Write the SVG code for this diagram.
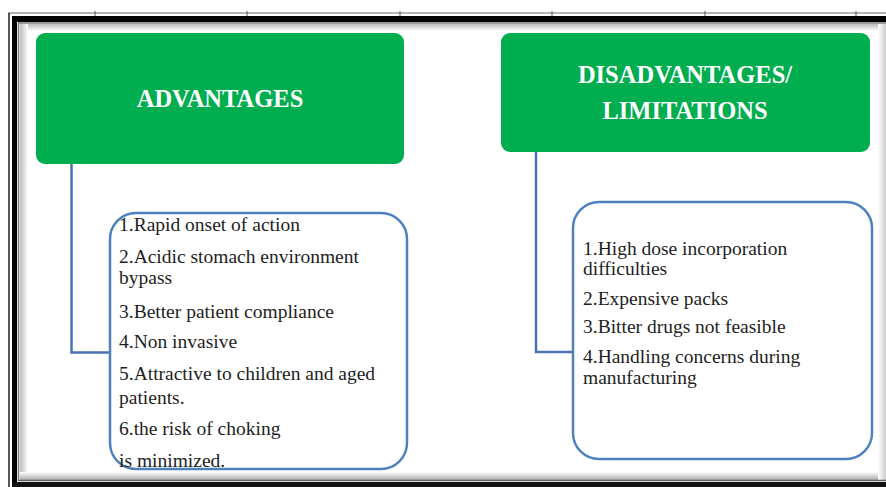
<svg xmlns="http://www.w3.org/2000/svg" width="886" height="487" viewBox="0 0 886 487">
<defs>
<style>
.hdr{fill:#00AD4F;}
.hdrtxt{font-family:"Liberation Serif","Times New Roman",serif;font-weight:bold;font-size:24.5px;fill:#ffffff;text-anchor:middle;}
.box{fill:#ffffff;stroke:#4F81BD;stroke-width:2.5;}
.txt{font-family:"Liberation Serif","Times New Roman",serif;font-size:19.5px;fill:#1e1e1e;}
.conn{fill:none;stroke:#4A72B0;stroke-width:2.5;}
.tick{stroke:#555;stroke-width:1;}
</style>
<linearGradient id="shL" x1="0" x2="1" y1="0" y2="0"><stop offset="0" stop-color="#bbbbbb"/><stop offset="1" stop-color="#ffffff"/></linearGradient>
<linearGradient id="shT" x1="0" x2="0" y1="0" y2="1"><stop offset="0" stop-color="#bbbbbb"/><stop offset="1" stop-color="#ffffff"/></linearGradient>
<linearGradient id="shB" x1="0" x2="0" y1="1" y2="0"><stop offset="0" stop-color="#aaaaaa"/><stop offset="1" stop-color="#ffffff"/></linearGradient>
<linearGradient id="shR" x1="1" x2="0" y1="0" y2="0"><stop offset="0" stop-color="#cccccc"/><stop offset="1" stop-color="#ffffff"/></linearGradient>
</defs>
<rect width="886" height="487" fill="#ffffff"/>
<g id="frame">
<rect x="20" y="24" width="866" height="7" fill="url(#shT)"/>
<rect x="20" y="24" width="8" height="457" fill="url(#shL)"/>
<rect x="20" y="472" width="866" height="8" fill="url(#shB)"/>
<rect x="878" y="24" width="8" height="456" fill="url(#shR)"/>
<line x1="8" y1="13" x2="886" y2="13" stroke="#666" stroke-width="1.2"/>
<line x1="9" y1="13" x2="9" y2="487" stroke="#222" stroke-width="1.5"/>
<rect x="12" y="16" width="874" height="6" fill="#000"/>
<rect x="12" y="16" width="5" height="471" fill="#000"/>
<rect x="12" y="482" width="874" height="5" fill="#111"/>
<line x1="18.5" y1="23" x2="18.5" y2="481" stroke="#777" stroke-width="1.5"/>
<line x1="18" y1="23" x2="886" y2="23" stroke="#777" stroke-width="1.5"/>
<line x1="18" y1="480.5" x2="886" y2="480.5" stroke="#666" stroke-width="1.5"/>
<line class="tick" x1="95" y1="11" x2="95" y2="16"/>
<line class="tick" x1="247" y1="11" x2="247" y2="16"/>
<line class="tick" x1="400" y1="11" x2="400" y2="16"/>
<line class="tick" x1="552" y1="11" x2="552" y2="16"/>
<line class="tick" x1="705" y1="11" x2="705" y2="16"/>
<line class="tick" x1="856" y1="11" x2="856" y2="16"/>
</g>
<g id="connectors">
<path class="conn" d="M71.5,164 V352.5 H110"/>
<path class="conn" d="M536,152 V352 H573"/>
</g>
<g id="advantages-header">
<rect class="hdr" x="36" y="33" width="368" height="131" rx="9"/>
<text class="hdrtxt" x="220" y="107">ADVANTAGES</text>
</g>
<g id="disadvantages-header">
<rect class="hdr" x="501" y="33" width="369" height="119" rx="9"/>
<text class="hdrtxt" x="685" y="83">DISADVANTAGES/</text>
<text class="hdrtxt" x="685" y="119">LIMITATIONS</text>
</g>
<g id="advantages-list">
<rect class="box" x="110" y="213" width="297" height="256" rx="26"/>
<text class="txt" x="119" y="231">1.Rapid onset of action</text>
<text class="txt" x="119" y="263">2.Acidic stomach environment</text>
<text class="txt" x="119" y="284">bypass</text>
<text class="txt" x="119" y="318">3.Better patient compliance</text>
<text class="txt" x="119" y="348">4.Non invasive</text>
<text class="txt" x="119" y="380">5.Attractive to children and aged</text>
<text class="txt" x="119" y="404">patients.</text>
<text class="txt" x="119" y="435">6.the risk of choking</text>
<text class="txt" x="119" y="467">is minimized.</text>
</g>
<g id="disadvantages-list">
<rect class="box" x="573" y="202" width="299" height="257" rx="26"/>
<text class="txt" x="583" y="255">1.High dose incorporation</text>
<text class="txt" x="583" y="275">difficulties</text>
<text class="txt" x="583" y="305">2.Expensive packs</text>
<text class="txt" x="583" y="333">3.Bitter drugs not feasible</text>
<text class="txt" x="583" y="363">4.Handling concerns during</text>
<text class="txt" x="583" y="384">manufacturing</text>
</g>
</svg>
